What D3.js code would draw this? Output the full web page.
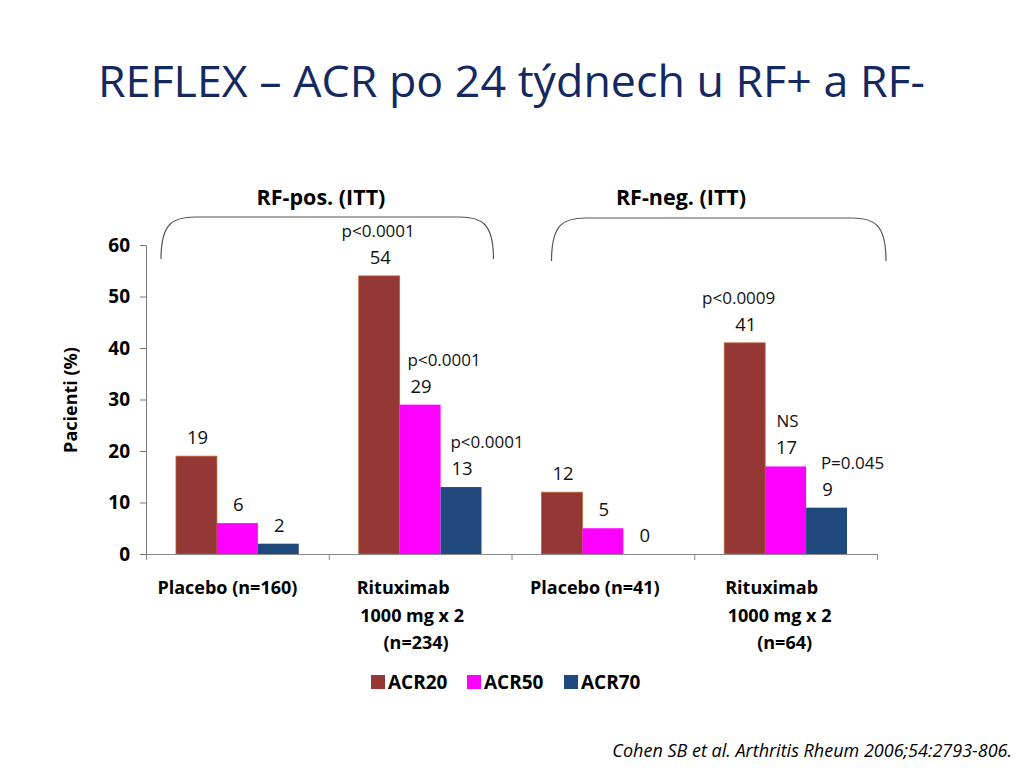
<!DOCTYPE html>
<html>
<head>
<meta charset="utf-8">
<script src="https://cdn.jsdelivr.net/npm/d3@7"></script>
<style>
  body { margin: 0; background: #fff; }
  svg { display: block; font-family: "Open Sans", Lato, sans-serif; }
</style>
</head>
<body>
<div id="chart-container"></div>
<script>
// values
const categoryLines = [
  ["Placebo (n=160)"],
  ["Rituximab", "1000 mg x 2", "(n=234)"],
  ["Placebo (n=41)"],
  ["Rituximab", "1000 mg x 2", "(n=64)"],
];
const categories = categoryLines.map((l) => l.join(" "));
const seriesNames = ["ACR20", "ACR50", "ACR70"];
const acr20 = [19, 54, 12, 41];
const acr50 = [6, 29, 5, 17];
const acr70 = [2, 13, 0, 9];
const pLabels = [
  [null, null, null],
  ["p<0.0001", "p<0.0001", "p<0.0001"],
  [null, null, null],
  ["p<0.0009", "NS", "P=0.045"],
];
const groupLabels = ["RF-pos. (ITT)", "RF-neg. (ITT)"];
const yTicks = [0, 10, 20, 30, 40, 50, 60];

// layout
const width = 1024;
const height = 768;
const font = '"Open Sans", Lato, sans-serif';
const colors = { ACR20: "#953735", ACR50: "#ff00ff", ACR70: "#1f497d" };
const pDx = [
  [0, 0, 0],
  [-1, 24, 26],
  [0, 0, 0],
  [-6, 2, 26],
];
const lineDx = [[-10], [-17, -8, -4], [-8], [-14, -6, -1]];

const svg = d3
  .select("#chart-container")
  .append("svg")
  .attr("width", width)
  .attr("height", height);

// title
svg
  .append("text")
  .attr("x", 98)
  .attr("y", 97)
  .attr("fill", "#13295f")
  .attr("font-size", 44)
  .attr("textLength", 827)
  .attr("lengthAdjust", "spacingAndGlyphs")
  .text("REFLEX – ACR po 24 týdnech u RF+ a RF-");

// scales
const x0 = d3.scaleBand().domain(categories).range([146, 877]);
const x1 = d3
  .scaleBand()
  .domain(seriesNames)
  .range([30, x0.bandwidth() - 30]);
const y = d3.scaleLinear().domain([0, 60]).range([554, 245]);

const data = categories.map((c, i) => ({
  category: c,
  values: [acr20[i], acr50[i], acr70[i]],
}));

// brackets over the RF groups
const bw = x0.bandwidth();
const brackets = [
  { x1: x0(categories[0]) + 15, x2: x0(categories[1]) + bw - 18, top: 217, bottom: 259 },
  { x1: x0(categories[2]) + 40, x2: x0(categories[3]) + bw + 9, top: 218, bottom: 261 },
];
svg
  .append("g")
  .selectAll("path")
  .data(brackets)
  .join("path")
  .attr("fill", "none")
  .attr("stroke", "#555")
  .attr("stroke-width", 1.2)
  .attr(
    "d",
    (b) => `M${b.x1},${b.bottom} C${b.x1},${b.top + 6} ${b.x1 + 12},${b.top} ${b.x1 + 34},${b.top}
      L${b.x2 - 34},${b.top} C${b.x2 - 12},${b.top} ${b.x2},${b.top + 6} ${b.x2},${b.bottom}`
  );

svg
  .append("g")
  .attr("font-weight", "bold")
  .attr("font-size", 21.5)
  .attr("text-anchor", "middle")
  .selectAll("text")
  .data(groupLabels)
  .join("text")
  .attr("x", (d, i) => [321, 681][i])
  .attr("y", 205)
  .text((d) => d);

// bars
const groups = svg
  .append("g")
  .selectAll("g")
  .data(data)
  .join("g")
  .attr("transform", (d) => `translate(${x0(d.category)},0)`);

groups
  .selectAll("rect")
  .data((d) => d.values.map((v, j) => ({ key: seriesNames[j], value: v })))
  .join("rect")
  .attr("x", (d) => x1(d.key))
  .attr("y", (d) => y(d.value))
  .attr("width", x1.bandwidth())
  .attr("height", (d) => y(0) - y(d.value))
  .attr("fill", (d) => colors[d.key])
  .attr("stroke", (d) => (d.key === "ACR20" && d.value > 0 ? "#b9652f" : "none"))
  .attr("stroke-width", 0.8);

// value labels
groups
  .selectAll("text.val")
  .data((d) => d.values.map((v, j) => ({ key: seriesNames[j], value: v })))
  .join("text")
  .attr("class", "val")
  .attr("x", (d) => x1(d.key) + x1.bandwidth() / 2 + 1)
  .attr("y", (d) => y(d.value) - 12)
  .attr("text-anchor", "middle")
  .attr("font-size", 18.5)
  .attr("fill", "#111")
  .text((d) => d.value);

// significance labels
groups
  .selectAll("text.p")
  .data((d, i) =>
    d.values
      .map((v, j) => ({ key: seriesNames[j], value: v, label: pLabels[i][j], dx: pDx[i][j] }))
      .filter((e) => e.label)
  )
  .join("text")
  .attr("class", "p")
  .attr("x", (d) => x1(d.key) + x1.bandwidth() / 2 + d.dx)
  .attr("y", (d) => y(d.value) - 39)
  .attr("text-anchor", "middle")
  .attr("font-size", 17)
  .attr("fill", "#111")
  .text((d) => d.label);

// y axis
const yAxis = svg
  .append("g")
  .attr("transform", "translate(146,0)")
  .call(d3.axisLeft(y).tickValues(yTicks).tickSize(6).tickPadding(10).tickSizeOuter(0));
yAxis.select(".domain").attr("stroke", "#777");
yAxis.selectAll(".tick line").attr("stroke", "#777");
yAxis
  .selectAll(".tick text")
  .attr("font-family", font)
  .attr("font-size", 19)
  .attr("font-weight", "bold")
  .attr("fill", "#000");

svg
  .append("text")
  .attr("transform", "translate(77,400) rotate(-90)")
  .attr("text-anchor", "middle")
  .attr("font-weight", "bold")
  .attr("font-size", 18)
  .text("Pacienti (%)");

// x axis with ticks at band boundaries
const xb = d3.scaleLinear().domain([0, categories.length]).range(x0.range());
const xAxis = svg
  .append("g")
  .attr("transform", "translate(0,554)")
  .call(d3.axisBottom(xb).tickValues(d3.range(categories.length + 1)).tickFormat("").tickSize(6).tickSizeOuter(0));
xAxis.select(".domain").attr("stroke", "#888");
xAxis.selectAll(".tick line").attr("stroke", "#888");

// category labels
svg
  .append("g")
  .attr("font-weight", "bold")
  .attr("font-size", 18)
  .attr("text-anchor", "middle")
  .selectAll("text")
  .data(categoryLines)
  .join("text")
  .attr("y", 594)
  .each(function (lines, i) {
    d3.select(this)
      .selectAll("tspan")
      .data(lines)
      .join("tspan")
      .attr("x", (l, k) => x0(categories[i]) + bw / 2 + lineDx[i][k])
      .attr("dy", (l, k) => (k ? 27.5 : 0))
      .text((l) => l);
  });

// legend
const legendX = [371, 467, 564];
const legend = svg
  .append("g")
  .selectAll("g")
  .data(seriesNames)
  .join("g")
  .attr("transform", (d, i) => `translate(${legendX[i]},675)`);
legend
  .append("rect")
  .attr("width", 14)
  .attr("height", 14)
  .attr("fill", (d) => colors[d]);
legend
  .append("text")
  .attr("x", 17)
  .attr("y", 14)
  .attr("font-weight", "bold")
  .attr("font-size", 19)
  .text((d) => d);

// source
svg
  .append("text")
  .attr("x", 1012)
  .attr("y", 757)
  .attr("text-anchor", "end")
  .attr("font-style", "italic")
  .attr("font-size", 18)
  .text("Cohen SB et al. Arthritis Rheum 2006;54:2793-806.");
</script>
</body>
</html>
